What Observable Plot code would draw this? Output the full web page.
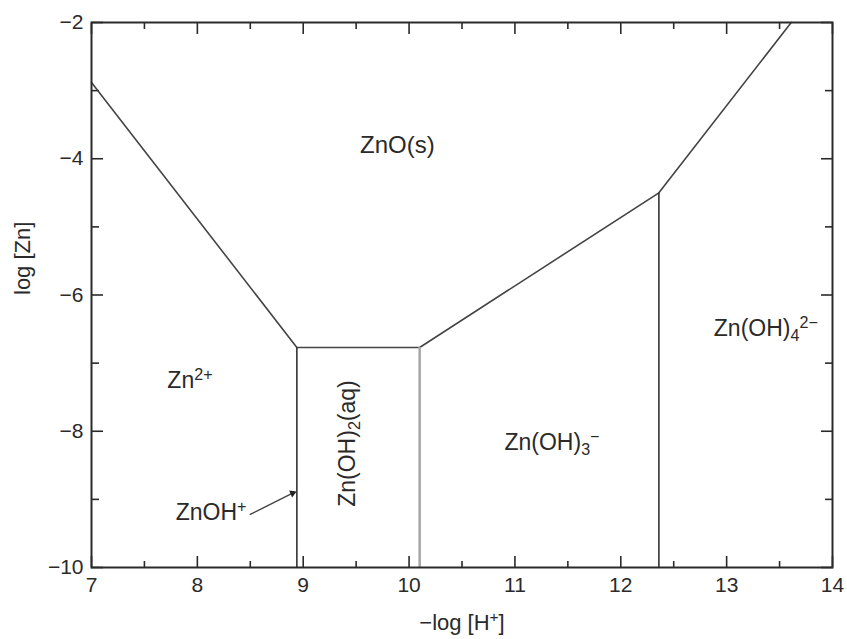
<!DOCTYPE html>
<html><head><meta charset="utf-8">
<script src="https://cdn.jsdelivr.net/npm/d3@7"></script>
<script src="https://cdn.jsdelivr.net/npm/@observablehq/plot@0.6"></script>
<style>body{margin:0;background:#fff;}</style>
</head><body><div id="chart"></div>
<script>
// Tick values
const xMajor = [7, 8, 9, 10, 11, 12, 13, 14];
const xMinor = [7.5, 8.5, 9.5, 10.5, 11.5, 12.5, 13.5];
const yMajor = [-2, -4, -6, -8, -10];
const yMinor = [-3, -5, -7, -9];

// Solubility boundary of ZnO(s)  (-log[H+], log[Zn])
const boundaryPH    = [7, 8.94, 10.1, 12.36, 13.61];
const boundaryLogZn = [-2.88, -6.77, -6.77, -4.5, -2.0];

// Vertical predominance boundaries
const verticalPH    = [8.94, 10.1, 12.36];
const verticalTop   = [-6.77, -6.77, -4.5];
const verticalBase  = [-10, -10, -10];
const verticalKind  = ["dark", "light", "dark"];

// Region labels (^{..} superscript, _{..} subscript)
const labelText   = ["ZnO(s)", "Zn^{2+}", "ZnOH^{+}", "Zn(OH)_{2}(aq)", "Zn(OH)_{3}^{−}", "Zn(OH)_{4}^{2−}"];
const labelPH     = [9.89, 7.93, 8.13, 9.42, 11.35, 13.37];
const labelLogZn  = [-3.81, -7.26, -9.2, -8.18, -8.17, -6.49];
const labelRotate = [0, 0, 0, -90, 0, 0];
const labelSize   = [24, 23, 23, 23, 23, 23];

// Pointer arrow for ZnOH+
const arrowFrom = [8.50, -9.22];
const arrowTo   = [8.90, -8.91];

const xTitle = "−log [H^{+}]";
const yTitle = "log [Zn]";

const ink = "#2a2a2a";
const fmt = d => d < 0 ? "−" + Math.abs(d) : String(d);

const boundary = boundaryPH.map((x, i) => ({x, y: boundaryLogZn[i]}));
const verticals = verticalPH.map((x, i) => ({x, y1: verticalBase[i], y2: verticalTop[i], kind: verticalKind[i]}));
const labels = labelText.map((t, i) => ({t, x: labelPH[i], y: labelLogZn[i], r: labelRotate[i], s: labelSize[i]}));

const plot = Plot.plot({
  width: 847,
  height: 639,
  marginLeft: 91,
  marginRight: 15,
  marginTop: 22,
  marginBottom: 72,
  style: {fontFamily: "'Liberation Sans', Arial, sans-serif", color: ink, background: "#fff"},
  x: {domain: [7, 14]},
  y: {domain: [-10, -2]},
  marks: [
    // inward ticks
    Plot.axisX(xMajor, {anchor: "bottom", tickSize: -11, tickFormat: () => "", label: null, stroke: ink, strokeWidth: 1.6}),
    Plot.axisX(xMinor, {anchor: "bottom", tickSize: -6, tickFormat: () => "", label: null, stroke: ink, strokeWidth: 1.6}),
    Plot.axisX(xMajor, {anchor: "top", tickSize: -11, tickFormat: () => "", label: null, stroke: ink, strokeWidth: 1.6}),
    Plot.axisX(xMinor, {anchor: "top", tickSize: -6, tickFormat: () => "", label: null, stroke: ink, strokeWidth: 1.6}),
    Plot.axisY(yMajor, {anchor: "left", tickSize: -12, tickFormat: () => "", label: null, stroke: ink, strokeWidth: 1.6}),
    Plot.axisY(yMinor, {anchor: "left", tickSize: -8, tickFormat: () => "", label: null, stroke: ink, strokeWidth: 1.6}),
    Plot.axisY(yMajor, {anchor: "right", tickSize: -12, tickFormat: () => "", label: null, stroke: ink, strokeWidth: 1.6}),
    Plot.axisY(yMinor, {anchor: "right", tickSize: -8, tickFormat: () => "", label: null, stroke: ink, strokeWidth: 1.6}),
    // tick labels
    Plot.axisX(xMajor, {anchor: "bottom", tickSize: 0, tickPadding: 10, tickFormat: fmt, label: null, fontSize: 21, fill: ink}),
    Plot.axisY(yMajor, {anchor: "left", tickSize: 0, tickPadding: 8, tickFormat: fmt, label: null, fontSize: 21, fill: ink}),
    // boundaries
    Plot.line(boundary, {x: "x", y: "y", stroke: "#444", strokeWidth: 1.6}),
    Plot.ruleX(verticals.filter(d => d.kind === "dark"), {x: "x", y1: "y1", y2: "y2", stroke: "#333", strokeWidth: 1.6}),
    Plot.ruleX(verticals.filter(d => d.kind === "light"), {x: "x", y1: "y1", y2: "y2", stroke: "#a8a8a8", strokeWidth: 2.6}),
    Plot.frame({stroke: ink, strokeWidth: 2}),
    // arrow
    Plot.arrow([0], {x1: () => arrowFrom[0], y1: () => arrowFrom[1], x2: () => arrowTo[0], y2: () => arrowTo[1], stroke: "#444", strokeWidth: 1.4, headLength: 0}),
    Plot.dot([0], {x: () => arrowTo[0], y: () => arrowTo[1], symbol: "triangle2", r: 3.6, rotate: 67, fill: "#222", stroke: "none"}),
    // labels
    Plot.text(labels, {x: "x", y: "y", text: "t", rotate: "r", fontSize: "s", fill: ink}),
    // axis titles
    Plot.text([xTitle], {text: d => d, frameAnchor: "bottom", dy: 62, fontSize: 22, fill: ink}),
    Plot.text([yTitle], {text: d => d, frameAnchor: "left", dx: -69, rotate: -90, fontSize: 22, fill: ink})
  ]
});

// rich text: superscripts and subscripts
const NS = "http://www.w3.org/2000/svg";
plot.querySelectorAll("text").forEach(t => {
  const s = t.textContent;
  if (!/[\^_]\{/.test(s)) return;
  while (t.firstChild) t.removeChild(t.firstChild);
  const re = /([\^_])\{([^}]*)\}/g;
  let last = 0, m;
  const add = (str, kind) => {
    if (!str) return;
    const ts = document.createElementNS(NS, "tspan");
    ts.textContent = str;
    if (kind) {
      ts.setAttribute("font-size", "70%");
      ts.setAttribute("baseline-shift", kind === "^" ? "8px" : "-5px");
    }
    t.appendChild(ts);
  };
  while ((m = re.exec(s))) {
    add(s.slice(last, m.index), null);
    add(m[2], m[1]);
    last = re.lastIndex;
  }
  add(s.slice(last), null);
});

document.getElementById("chart").appendChild(plot);
</script>
</body></html>
